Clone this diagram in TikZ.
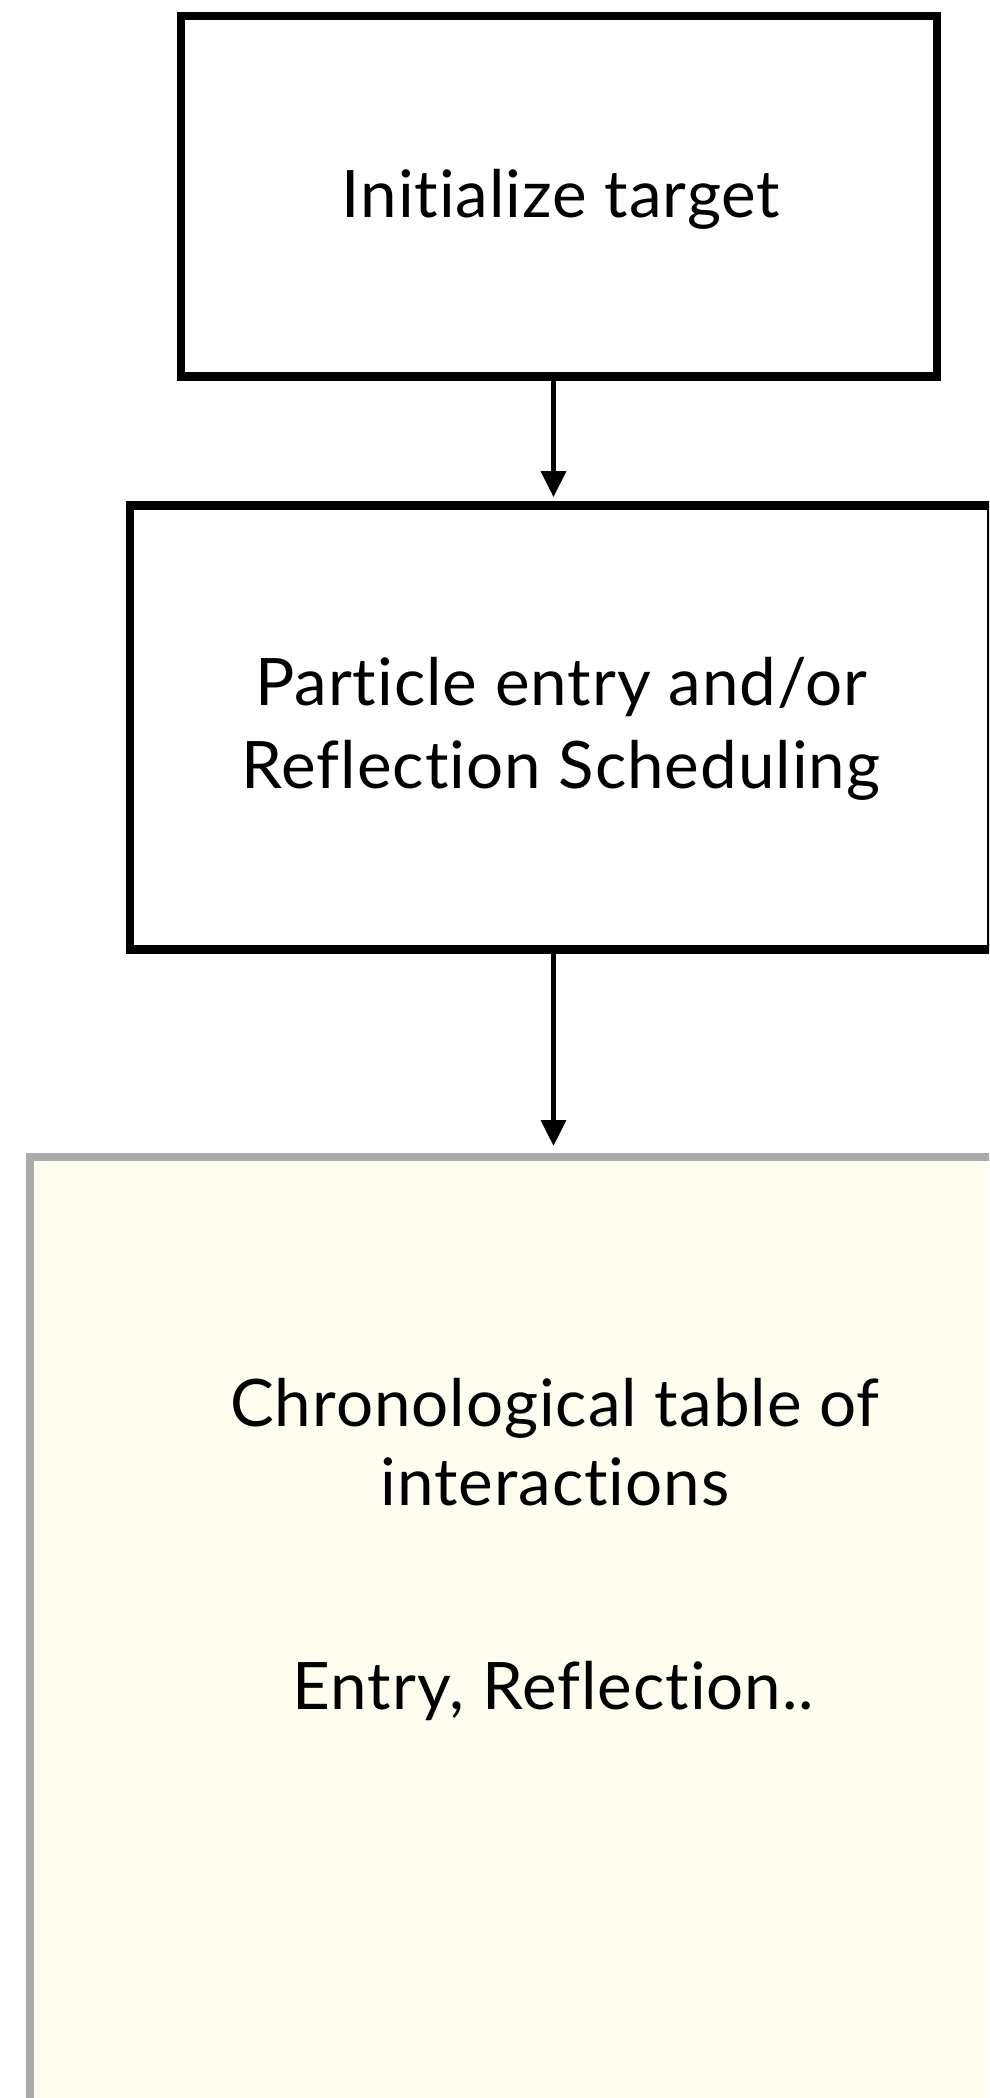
\documentclass[tikz,border=0pt]{standalone}
\usepackage{fontspec}
\setmainfont{Lato}[Ligatures={NoCommon}, RawFeature={-liga;-dlig}, LetterSpace=1.5]
\usetikzlibrary{arrows.meta}
\definecolor{cream}{HTML}{FFFDEF}
\definecolor{edgegray}{HTML}{AAAAAA}
\begin{document}
\begin{tikzpicture}[x=1pt,y=-1pt,
  stepbox/.style={draw=black, line width=8.3pt, fill=white, rectangle, inner sep=0pt},
  tablebox/.style={draw=edgegray, line width=8pt, fill=cream, rectangle, inner sep=0pt},
  txt/.style={font=\fontsize{65.5}{84}\selectfont, anchor=base, inner sep=0pt},
  flow/.style={line width=5pt, -{Triangle[length=26pt,width=24.5pt]}}]
\useasboundingbox (0,0) rectangle (989,2098);
\clip (0,0) rectangle (989,2098);
\fill[white] (0,0) rectangle (989,2098);

% process boxes
\node[stepbox, minimum width=756pt, minimum height=360.5pt] (init) at (559,196.25) {};
\node[stepbox, minimum width=861pt, minimum height=444pt] (sched) at (560.5,727.5) {};
\node[tablebox, minimum width=1052pt, minimum height=1042pt] (table) at (555.5,1677.7) {};

% labels
\node[txt] (tinit) at (561,217) {Initialize target};
\node[txt] (tsched1) at (561,705.4) {Particle entry and/or};
\node[txt] (tsched2) at (561,788) {Reflection Scheduling};
\node[txt] (ttable1) at (555,1426) {Chronological table of};
\node[txt] (ttable2) at (555,1505.5) {interactions};
\node[txt] (ttable3) at (553.5,1709) {Entry, Reflection..};

% connectors
\coordinate (spine) at (553.5,0);
\draw[flow, shorten >=4.2pt] (spine |- init.south) -- (spine |- sched.north);
\draw[flow, shorten >=6.7pt] (spine |- sched.south) -- (spine |- table.north);
\end{tikzpicture}
\end{document}
